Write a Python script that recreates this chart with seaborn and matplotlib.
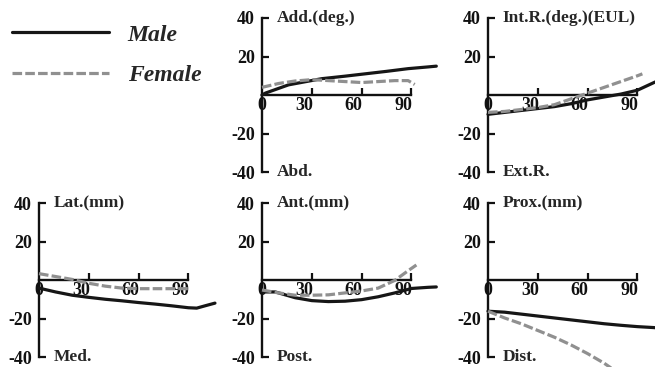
import matplotlib
matplotlib.use("Agg")
import matplotlib.pyplot as plt
import pandas as pd
import seaborn as sns
from matplotlib.transforms import ScaledTranslation

# ---------------- data (flexion angle in degrees -> value) ----------------
sexes = ["Male", "Female"]

add_male_x = [0, 2, 16, 36, 50, 62, 75, 88, 100, 105]
add_male_y = [0, 1, 5.3, 8.5, 9.8, 11, 12.3, 13.7, 14.6, 15]
add_female_x = [0, 10, 20, 30, 40, 50, 60, 70, 80, 88, 92]
add_female_y = [4, 6, 7.3, 8, 7.5, 7, 6.5, 7, 7.5, 7.5, 5.5]

intr_male_x = [0, 10, 20, 30, 40, 50, 60, 70, 80, 90, 100, 104]
intr_male_y = [-10, -9, -8, -7, -6, -4.5, -2.5, -1, 0.5, 2.5, 6.5, 8]
intr_female_x = [0, 10, 20, 30, 40, 50, 60, 70, 80, 90, 93]
intr_female_y = [-9, -8.5, -7.5, -6.5, -5, -2, 1, 4, 7, 10, 11]

lat_male_x = [0, 10, 20, 30, 40, 50, 60, 70, 80, 90, 95, 100, 106]
lat_male_y = [-4, -6, -7.7, -8.8, -9.8, -10.6, -11.5, -12.3, -13.2, -14.2, -14.4, -13.2, -11.8]
lat_female_x = [0, 10, 20, 30, 40, 50, 60, 70, 80, 90]
lat_female_y = [3.5, 2, 0.5, -1.5, -3, -4, -4.3, -4.3, -4.3, -4.3]

ant_male_x = [0, 8, 20, 30, 40, 50, 60, 70, 80, 90, 100, 105]
ant_male_y = [-6, -6, -9, -10.5, -11, -10.8, -10, -8.5, -6.5, -4.2, -3.6, -3.4]
ant_female_x = [0, 10, 20, 30, 40, 50, 60, 70, 80, 88, 93]
ant_female_y = [-5, -6.5, -7.7, -7.7, -7.5, -6.5, -5.5, -4, 0, 5, 8]

prox_male_x = [0, 10, 20, 30, 40, 50, 60, 70, 80, 90, 100, 102]
prox_male_y = [-16, -16.5, -17.5, -18.5, -19.5, -20.5, -21.5, -22.5, -23.3, -24, -24.5, -24.7]
prox_female_x = [0, 10, 20, 30, 40, 50, 60, 70, 75]
prox_female_y = [-16, -19.5, -22.5, -26, -29.5, -33.5, -38, -43, -46]

x_ticks = [0, 30, 60, 90]
x_tick_labels = ["0", "30", "60", "90"]
y_ticks = [-40, -20, 20, 40]
y_tick_labels = ["-40", "-20", "20", "40"]

panels = [
    ("Add.(deg.)", "Abd.", add_male_x, add_male_y, add_female_x, add_female_y),
    ("Int.R.(deg.)(EUL)", "Ext.R.", intr_male_x, intr_male_y, intr_female_x, intr_female_y),
    ("Lat.(mm)", "Med.", lat_male_x, lat_male_y, lat_female_x, lat_female_y),
    ("Ant.(mm)", "Post.", ant_male_x, ant_male_y, ant_female_x, ant_female_y),
    ("Prox.(mm)", "Dist.", prox_male_x, prox_male_y, prox_female_x, prox_female_y),
]

# ---------------- style ----------------
sns.set_style("white")
plt.rcParams["font.family"] = ["Liberation Serif", "DejaVu Serif"]
plt.rcParams["font.weight"] = "bold"

W, H = 655, 367
fig = plt.figure(figsize=(W / 100, H / 100), dpi=100)

px_per_deg = 1.66
xmax = 110
ax_w = xmax * px_per_deg / W
ax_h = 0.42
col_x = [39 / W, 262 / W, 488 / W]
row_y = [0.531, 0.026]
rects = [
    (col_x[1], row_y[0]), (col_x[2], row_y[0]),
    (col_x[0], row_y[1]), (col_x[1], row_y[1]), (col_x[2], row_y[1]),
]

palette = {"Male": "#161616", "Female": "#909090"}
dashes = {"Male": "", "Female": (3, 1)}

axes = []
for (top_lbl, bot_lbl, mx, my, fx, fy), (x0, y0) in zip(panels, rects):
    ax = fig.add_axes([x0, y0, ax_w, ax_h])
    df = pd.DataFrame({
        "angle": list(mx) + list(fx),
        "value": list(my) + list(fy),
        "sex": ["Male"] * len(mx) + ["Female"] * len(fx),
    })
    sns.lineplot(data=df, x="angle", y="value", hue="sex", style="sex",
                 hue_order=sexes, style_order=sexes, palette=palette,
                 dashes=dashes, linewidth=2.3, sort=False, legend=False,
                 estimator=None, ax=ax, clip_on=False, zorder=3)
    ax.set_xlim(0, xmax)
    ax.set_ylim(-40, 40)
    ax.set_xlabel("")
    ax.set_ylabel("")
    ax.patch.set_alpha(0)
    for s in ("top", "right"):
        ax.spines[s].set_visible(False)
    ax.spines["bottom"].set_position(("data", 0))
    ax.spines["bottom"].set_bounds(0, 90)
    ax.spines["left"].set_bounds(-40, 40)
    for s in ("bottom", "left"):
        ax.spines[s].set_linewidth(1.7)
        ax.spines[s].set_color("#111111")

    ax.set_xticks(x_ticks)
    ax.set_xticklabels(x_tick_labels)
    ax.set_yticks(y_ticks)
    ax.set_yticklabels(y_tick_labels)
    ax.tick_params(axis="both", which="major", direction="in", length=5, width=1.6,
                   colors="#111111", labelsize=13, pad=1.5,
                   bottom=True, left=True, top=False, right=False)
    ax.tick_params(axis="y", pad=5)
    xt = ax.xaxis.get_major_ticks()
    xt[0].tick1line.set_visible(False)
    labels = ax.get_xticklabels()
    labels[0].set_bbox(dict(facecolor="white", edgecolor="none", pad=0.8))
    for lb in labels[1:]:
        lb.set_transform(lb.get_transform() + ScaledTranslation(-0.08, 0, fig.dpi_scale_trans))
    for lb in labels + ax.get_yticklabels():
        lb.set_fontweight("bold")

    ax.text(9, 40, top_lbl, ha="left", va="center", fontsize=12.5, fontweight="bold")
    ax.text(9, -40, bot_lbl, ha="left", va="center", fontsize=12.5, fontweight="bold")
    axes.append(ax)

handles = axes[0].get_lines()[:2]
fig.legend(handles, sexes, loc="upper left", bbox_to_anchor=(12 / W, 1 - 24 / H),
           frameon=False, borderpad=0, borderaxespad=0, handlelength=4.1,
           handletextpad=0.8, labelspacing=0.8,
           prop=dict(family="Liberation Serif", style="italic", weight="bold", size=17))

fig.savefig("out.png", dpi=100)
